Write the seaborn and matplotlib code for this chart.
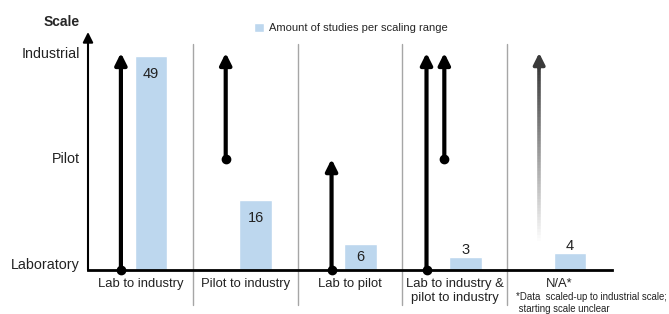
import numpy as np
import pandas as pd
import matplotlib
matplotlib.use("Agg")
import matplotlib.pyplot as plt
import seaborn as sns
from matplotlib.collections import LineCollection
from matplotlib.colors import LinearSegmentedColormap

# data
categories = ["Lab to industry", "Pilot to industry", "Lab to pilot",
              "Lab to industry &\npilot to industry", "N/A*"]
studies = [49, 16, 6, 3, 4]
scale_labels = ["Laboratory", "Pilot", "Industrial"]

# scaling arrows: category index, start scale, end scale (None = unclear start)
arrow_cat = [0, 1, 2, 3, 3, 4]
arrow_from = ["Laboratory", "Pilot", "Laboratory", "Laboratory", "Pilot", None]
arrow_to = ["Industrial", "Industrial", "Pilot", "Industrial", "Industrial", "Industrial"]

# where each scale level sits on the count axis
level_y = {"Laboratory": 0.0, "Pilot": 25.4, "Industrial": 49.7}
tick_y = [1.5, 25.8, 49.7]
arrow_dx = [-0.186, -0.186, -0.176, -0.27, -0.10, -0.195]
unclear_start = 6.0

sns.set_style("white")
plt.rcParams["font.family"] = ["Liberation Sans", "DejaVu Sans"]

fig = plt.figure(figsize=(6.69, 3.14), dpi=100)
ax = fig.add_axes([88 / 669, 44 / 314, 524 / 669, 238 / 314])

bar_color = "#BDD7EE"
df = pd.DataFrame({"pos": np.arange(len(categories)) + 0.1, "n": studies})
sns.barplot(data=df, x="pos", y="n", native_scale=True, width=0.31,
            color=bar_color, saturation=1, ax=ax,
            label="Amount of studies per scaling range")

ax.set_xlim(-0.5, len(categories) - 0.5)
ax.set_ylim(0, 54.5)

# value labels
for p, n in zip(df["pos"], df["n"]):
    if n >= 10:
        ax.annotate(str(n), (p, n), xytext=(0, -13), textcoords="offset points",
                    ha="center", va="center", fontsize=10.5, color="#222222")
    elif n >= 5:
        ax.text(p, n / 2, str(n), ha="center", va="center", fontsize=10.5, color="#222222")
    else:
        ax.annotate(str(n), (p, n), xytext=(0, 5), textcoords="offset points",
                    ha="center", va="center", fontsize=10.5, color="#222222")

# arrows
grad = LinearSegmentedColormap.from_list("g", ["#ffffff", "#3a3a3a"])
for c, a, b, dx in zip(arrow_cat, arrow_from, arrow_to, arrow_dx):
    x = c + dx
    y1 = level_y[b]
    if a is None:
        ys = np.linspace(unclear_start, y1 - 3, 60)
        segs = [[(x, ys[i]), (x, ys[i + 1])] for i in range(len(ys) - 1)]
        lc = LineCollection(segs, colors=grad(np.linspace(0, 1, len(segs))), linewidths=2.6)
        ax.add_collection(lc)
        ax.annotate("", xy=(x, y1), xytext=(x, y1 - 3.5),
                    arrowprops=dict(arrowstyle="-|>", lw=2.6, color="#3a3a3a",
                                    mutation_scale=17, shrinkA=0, shrinkB=0))
    else:
        y0 = level_y[a]
        ax.annotate("", xy=(x, y1), xytext=(x, y0),
                    arrowprops=dict(arrowstyle="-|>", lw=3, color="black",
                                    mutation_scale=17, shrinkA=0, shrinkB=0))
        ax.plot(x, y0, "o", color="black", markersize=6, clip_on=False, zorder=5)

# separators
for s in np.arange(0.5, len(categories) - 1, 1.0):
    ax.axvline(s, ymin=-0.147, ymax=0.95, color="#a6a6a6", lw=1, clip_on=False)

# axes
sns.despine(ax=ax, left=True)
ax.spines["bottom"].set_linewidth(2)
ax.spines["bottom"].set_color("black")
ax.annotate("", xy=(0, 1), xytext=(0, 0), xycoords="axes fraction",
            arrowprops=dict(arrowstyle="-|>", lw=1.5, color="black",
                            mutation_scale=15, shrinkA=0, shrinkB=0))

ax.set_xticks(np.arange(len(categories)))
ax.set_xticklabels(categories, fontsize=9.4, color="#222222", linespacing=1.15)
ax.set_yticks(tick_y)
ax.set_yticklabels(scale_labels, fontsize=10.3, color="#222222")
ax.tick_params(length=0, pad=6)
ax.tick_params(axis="x", pad=6)
ax.set_xlabel("")
ax.set_ylabel("")

fig.text(80 / 669, 1 - 22 / 314, "Scale", ha="right", va="center",
         fontsize=10, fontweight="bold")
fig.text(516 / 669, 1 - 303 / 314,
         "*Data  scaled-up to industrial scale;\n starting scale unclear",
         ha="left", va="center", fontsize=6.9, color="#222222", linespacing=1.15)

ax.legend(loc="center left", bbox_to_anchor=(254 / 669, 1 - 28 / 314),
          bbox_transform=fig.transFigure, frameon=False, fontsize=8,
          handlelength=0.9, handleheight=0.9, handletextpad=0.45, borderpad=0,
          borderaxespad=0)

fig.savefig("out.png", dpi=100)
